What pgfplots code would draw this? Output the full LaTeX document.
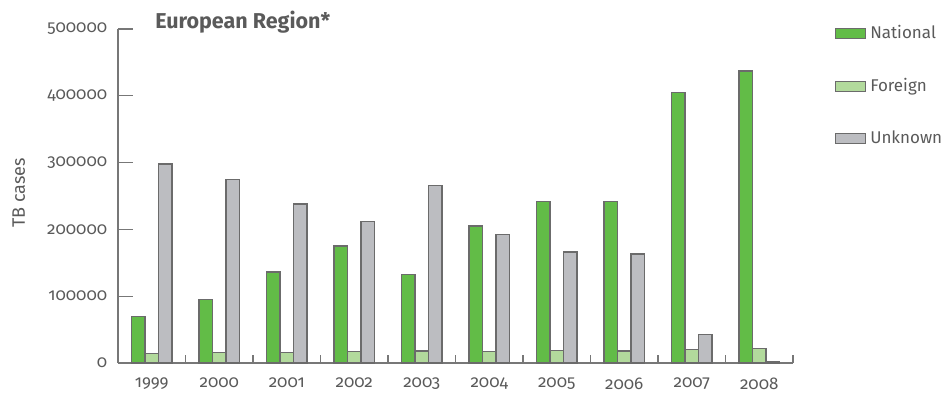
\documentclass[border=0pt]{standalone}
\usepackage{pgfplots}
\pgfplotsset{compat=1.18}
\usepackage{fontspec}
\setmainfont{Fira Sans}[Numbers=OldStyle]
\definecolor{nat}{HTML}{62BC47}
\definecolor{forn}{HTML}{B2DA9C}
\definecolor{unk}{HTML}{BCBDC1}
\definecolor{edge}{HTML}{6B6B6B}
\definecolor{axisgray}{HTML}{777777}
\definecolor{textgray}{HTML}{5A5A5A}
\begin{document}
\fontsize{17pt}{20pt}\selectfont\color{textgray}%
\begin{tikzpicture}
\begin{axis}[
  scale only axis, width=675pt, height=334pt,
  xmin=-0.5, xmax=9.5, ymin=0, ymax=500000,
  axis x line=bottom, axis y line=left,
  axis line style={-, draw=axisgray, line width=1.2pt},
  ybar=0pt, bar width=13.5pt,
  scaled y ticks=false,
  xtick={0,...,9},
  xticklabels={1999,2000,2001,2002,2003,2004,2005,2006,2007,2008},
  every major x tick/.append style={draw=none},
  minor xtick={0.5,1.5,...,9.5}, minor tick length=8pt,
  ytick={0,100000,200000,300000,400000,500000},
  yticklabels={0,100000,200000,300000,400000,500000},
  major tick length=15pt, tick align=inside,
  tick style={draw=axisgray, line width=1.2pt},
  tick label style={font=\fontsize{17pt}{20pt}\selectfont, text=textgray},
  yticklabel style={xshift=-5pt},
  xticklabel style={yshift=-9pt},
  ylabel={TB cases},
  every axis y label/.style={at={(rel axis cs:-0.147,0.51)}, rotate=90, anchor=center, font=\fontsize{18pt}{21pt}\selectfont, text=textgray},
  legend image code/.code={\draw[#1, line width=1.2pt] (0pt,-5pt) rectangle (30pt,5pt);},
  legend style={draw=none, fill=none, at={(1.062,1.017)}, anchor=north west, row sep=33pt, inner sep=0pt, font=\fontsize{17pt}{20pt}\selectfont, text=textgray, nodes={inner xsep=4pt}},
  legend cell align=left,
  clip=false,
]
\addplot[fill=nat, draw=edge, line width=1.3pt] coordinates {(0,70000) (1,95000) (2,136000) (3,175000) (4,132000) (5,205000) (6,242000) (7,242000) (8,405000) (9,437000)};
\addplot[fill=forn, draw=edge, line width=1.3pt] coordinates {(0,14500) (1,15500) (2,16000) (3,17000) (4,18000) (5,17500) (6,18700) (7,18000) (8,20000) (9,21500)};
\addplot[fill=unk, draw=edge, line width=1.3pt] coordinates {(0,298000) (1,275000) (2,238000) (3,212000) (4,266000) (5,192000) (6,166000) (7,163000) (8,43000) (9,2000)};
\legend{National,Foreign,Unknown}
\node[anchor=base west, font=\bfseries\fontsize{21.5pt}{25pt}\selectfont, text=textgray, inner sep=0pt] at (rel axis cs:0.055,1.002) {European Region*};
\end{axis}
\pgfresetboundingbox
\path[use as bounding box] ([shift={(-118pt,-38pt)}]current axis.south west) rectangle ([shift={(154pt,29pt)}]current axis.north east);
\end{tikzpicture}
\end{document}
